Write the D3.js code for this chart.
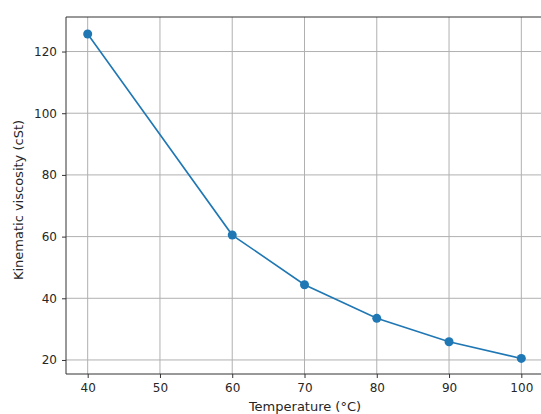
<!DOCTYPE html>
<html>
<head>
<meta charset="UTF-8">
<title></title>
<script src="https://cdn.jsdelivr.net/npm/d3@7"></script>
<style>
    body { margin: 0; background: #fff; }
    svg text { font-family: "DejaVu Sans", sans-serif; fill: #262626; }
</style>
</head>
<body>
<div id="chart"></div>
<script>
    // temperature (°C) and kinematic viscosity (cSt)
    var temps = [40, 60, 70, 80, 90, 100];
    var viscosity = [125.7, 60.5, 44.4, 33.5, 25.9, 20.5];
    var xTicks = [40, 50, 60, 70, 80, 90, 100];
    var yTicks = [20, 40, 60, 80, 100, 120];

    var W = 541, H = 414;
    // plot box (note: "top" is taken by window.top, so use px* names)
    var pxLeft = 66, pxTop = 17, pxRight = 543, pxBottom = 374;

    var svg = d3.select("#chart").append("svg")
            .attr("width", W)
            .attr("height", H);

    var x = d3.scaleLinear().domain([37, 103]).range([pxLeft, pxRight]);
    var y = d3.scaleLinear().domain([15.45, 131.2]).range([pxBottom, pxTop]);

    // grid
    svg.append("g").selectAll("line").data(xTicks).enter().append("line")
            .attr("x1", function(d){ return x(d); })
            .attr("x2", function(d){ return x(d); })
            .attr("y1", pxTop).attr("y2", pxBottom)
            .attr("stroke", "#b0b0b0").attr("stroke-width", 1);
    svg.append("g").selectAll("line").data(yTicks).enter().append("line")
            .attr("y1", function(d){ return y(d); })
            .attr("y2", function(d){ return y(d); })
            .attr("x1", pxLeft).attr("x2", pxRight)
            .attr("stroke", "#b0b0b0").attr("stroke-width", 1);

    // axes
    var xAxis = svg.append("g")
            .attr("transform", "translate(0," + pxBottom + ")")
            .call(d3.axisBottom(x).tickValues(xTicks).tickSize(4).tickPadding(5));
    var yAxis = svg.append("g")
            .attr("transform", "translate(" + pxLeft + ",0)")
            .call(d3.axisLeft(y).tickValues(yTicks).tickSize(4).tickPadding(5));
    [xAxis, yAxis].forEach(function(a){
        a.select(".domain").remove();
        a.selectAll("line").attr("stroke", "#333");
        a.selectAll("text").attr("font-size", "12px").attr("font-family", "DejaVu Sans").attr("fill", "#333");
    });

    // spines (left, bottom, top; the right one falls outside the picture)
    svg.append("path")
            .attr("d", "M" + pxRight + "," + pxTop + "H" + pxLeft + "V" + pxBottom + "H" + pxRight)
            .attr("fill", "none").attr("stroke", "#333").attr("stroke-width", 1);

    // data line
    var pts = temps.map(function(t, i){ return [t, viscosity[i]]; });
    svg.append("path")
            .datum(pts)
            .attr("fill", "none")
            .attr("stroke", "#1f77b4")
            .attr("stroke-width", 1.6)
            .attr("d", d3.line().x(function(d){ return x(d[0]); }).y(function(d){ return y(d[1]); }));
    svg.append("g").selectAll("circle").data(pts).enter().append("circle")
            .attr("cx", function(d){ return x(d[0]); })
            .attr("cy", function(d){ return y(d[1]); })
            .attr("r", 4.5)
            .attr("fill", "#1f77b4");

    // labels
    svg.append("text")
            .attr("x", 305)
            .attr("y", 411)
            .attr("text-anchor", "middle")
            .attr("font-size", "13px")
            .attr("fill", "#333")
            .text("Temperature (°C)");
    svg.append("text")
            .attr("transform", "translate(23,200) rotate(-90)")
            .attr("text-anchor", "middle")
            .attr("font-size", "13px")
            .attr("fill", "#333")
            .text("Kinematic viscosity (cSt)");
</script>
</body>
</html>
